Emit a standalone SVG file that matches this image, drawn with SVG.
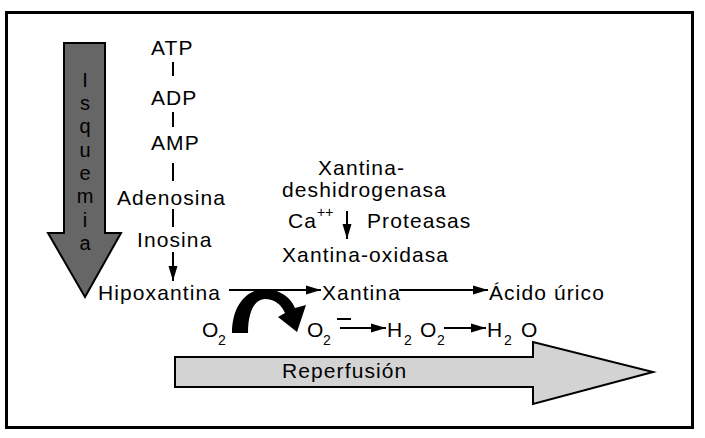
<svg xmlns="http://www.w3.org/2000/svg" width="705" height="438" viewBox="0 0 705 438">
<style>
text{font-family:"Liberation Sans",Arial,Helvetica,sans-serif;font-size:21px;fill:#000;letter-spacing:1.1px}
.sub{font-size:14px;letter-spacing:0}
.vt{font-size:20px;letter-spacing:0}
.ln{stroke:#000;stroke-width:2;fill:none}
.big{stroke:#000;stroke-width:2;stroke-linejoin:miter}
</style>
<defs>
<marker id="ah" markerUnits="userSpaceOnUse" markerWidth="16" markerHeight="10" refX="15" refY="5" orient="auto">
<path d="M0,0.5 L15,5 L0,9.5 z" fill="#000"/>
</marker>
</defs>
<rect x="6.5" y="12.5" width="686" height="415" fill="#fff" stroke="#000" stroke-width="3"/>

<g id="isquemia">
<polygon class="big" fill="#666" points="64,43 105,43 105,233 121,233 85,297 48,233 64,233"/>
<g text-anchor="middle">
<text class="vt" x="85" y="87">I</text>
<text class="vt" x="85" y="110">s</text>
<text class="vt" x="85" y="133">q</text>
<text class="vt" x="85" y="157">u</text>
<text class="vt" x="85" y="180">e</text>
<text class="vt" x="85" y="203">m</text>
<text class="vt" x="85" y="227">i</text>
<text class="vt" x="85" y="250">a</text>
</g>
</g>

<g id="reperfusion">
<polygon class="big" fill="#d3d3d3" points="175,357 533,357 533,342 653,372 533,404 533,387 175,387"/>
<text x="282" y="378">Reperfusión</text>
</g>

<g id="atp"><text x="151" y="55">ATP</text></g>
<g id="adp"><text x="151" y="105">ADP</text></g>
<g id="amp"><text x="151" y="150">AMP</text></g>
<g id="adenosina"><text x="117" y="205">Adenosina</text></g>
<g id="inosina"><text x="137" y="247">Inosina</text></g>
<g id="hipoxantina"><text x="98" y="300">Hipoxantina</text></g>
<g id="xantina"><text x="322" y="300">Xantina</text></g>
<g id="acido"><text x="489" y="300">Ácido úrico</text></g>
<g id="xdh"><text x="318" y="175">Xantina-</text><text x="282" y="197">deshidrogenasa</text></g>
<g id="ca"><text x="288" y="228">Ca</text><text class="sub" x="317" y="217">++</text></g>
<g id="proteasas"><text x="367" y="228">Proteasas</text></g>
<g id="xo"><text x="282" y="262">Xantina-oxidasa</text></g>
<g id="o2a"><text x="202" y="337">O</text><text class="sub" x="218" y="345">2</text></g>
<g id="o2b"><text x="307" y="337">O</text><text class="sub" x="323" y="345">2</text><line x1="337" y1="319" x2="351" y2="319" stroke="#000" stroke-width="2"/></g>
<g id="h2o2"><text x="387" y="337">H</text><text class="sub" x="404" y="345">2</text><text x="420" y="337">O</text><text class="sub" x="437" y="345">2</text></g>
<g id="h2o"><text x="487" y="337">H</text><text class="sub" x="504" y="345">2</text><text x="521" y="337">O</text></g>

<g id="connectors">
<line class="ln" x1="173" y1="62" x2="173" y2="76"/>
<line class="ln" x1="173" y1="112" x2="173" y2="127"/>
<line class="ln" x1="173" y1="163" x2="173" y2="181"/>
<line class="ln" x1="173" y1="209" x2="173" y2="227"/>
<line class="ln" x1="173" y1="252" x2="173" y2="281" marker-end="url(#ah)"/>
<line class="ln" x1="347" y1="211" x2="347" y2="239" marker-end="url(#ah)"/>
<line class="ln" x1="229" y1="290" x2="321" y2="290" marker-end="url(#ah)"/>
<line class="ln" x1="399" y1="290" x2="488" y2="290" marker-end="url(#ah)"/>
<line class="ln" x1="340" y1="328" x2="386" y2="328" marker-end="url(#ah)"/>
<line class="ln" x1="444" y1="328" x2="486" y2="328" marker-end="url(#ah)"/>
<path fill="#000" d="M232,333 C232,305 247,289 265,289 C280,289 291,298 295,308 L306,305 L297,332 L278,317 L285,313 C281,304 274,299 265,299 C255,299 248,311 248,333 Z"/>
</g>
</svg>
